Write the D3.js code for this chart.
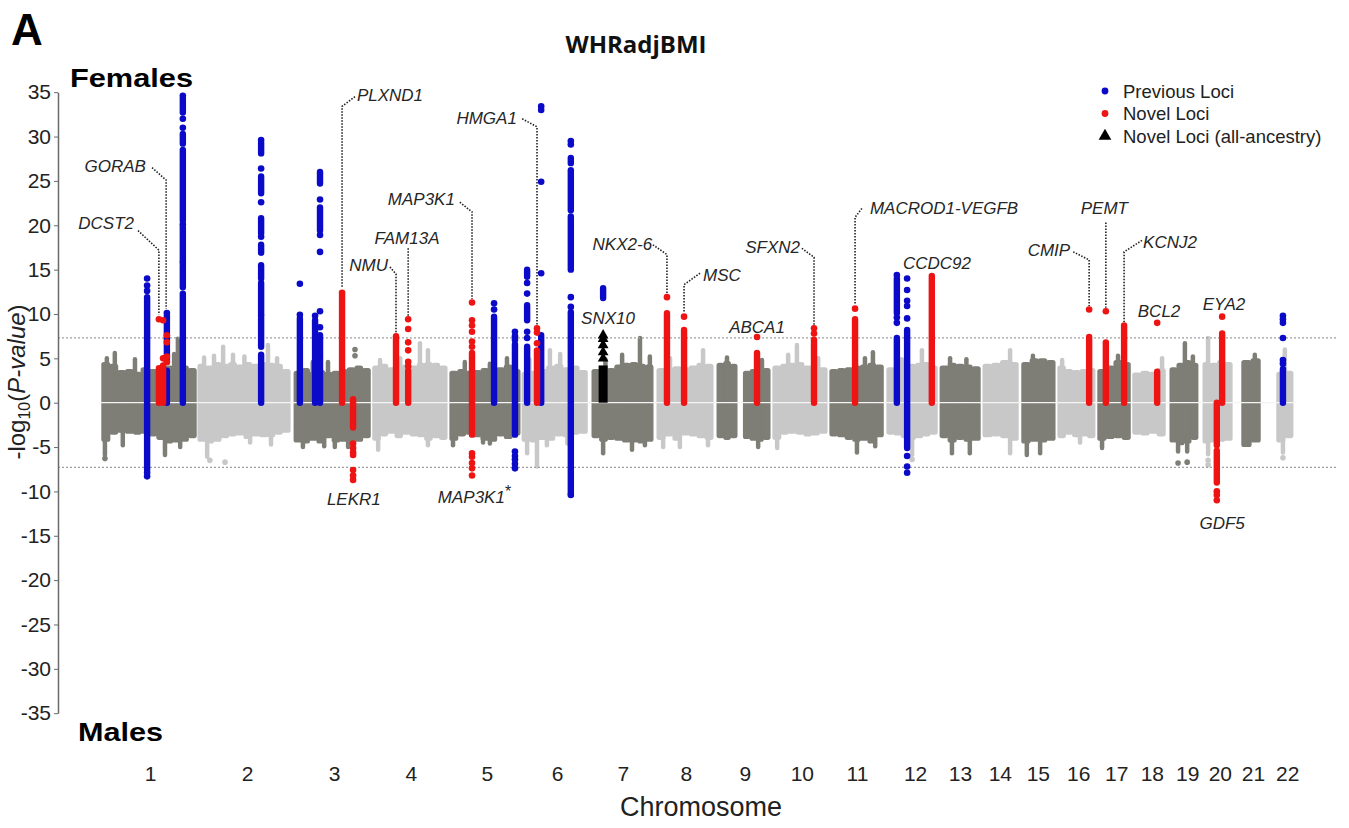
<!DOCTYPE html>
<html>
<head>
<meta charset="utf-8">
<script src="https://cdn.jsdelivr.net/npm/d3@7"></script>
<style>
  body { margin: 0; background: #fff; }
  svg { display: block; }
  text { font-family: "Liberation Sans", Arial, Helvetica, sans-serif; }
</style>
</head>
<body>
<svg id="chart" width="1349" height="828"></svg>
<script>
// ---- Genome layout: cumulative position (Mb) of each chromosome's SNP span ----
const chromNames  = ['1','2','3','4','5','6','7','8','9','10','11','12','13','14','15','16','17','18','19','20','21','22'];
const chromStart  = [5, 258, 511, 718, 921, 1111, 1295, 1466, 1624, 1771, 1921, 2071, 2211, 2324, 2426, 2521, 2626, 2718, 2816, 2903, 3005, 3097];
const chromEnd    = [253, 500, 711, 913, 1105, 1282, 1455, 1613, 1763, 1913, 2061, 2203, 2316, 2416, 2513, 2618, 2711, 2803, 2889, 2979, 3053, 3139];
const chromCenter = [132, 387, 616, 818, 1018, 1203, 1376, 1542, 1697, 1847, 1992, 2145, 2263, 2368, 2468, 2574, 2674, 2768, 2861, 2947, 3034, 3124];

// ---- Background (non-significant) SNP envelope per chromosome, -log10(P) ----
// females plotted upward, males downward; null = no SNPs in that bin
const cloudTop = [
  [4.6, 4.4, 3.7, 3.8, 3.5, 4.0, 3.8, 4.0, 4.2, 4.6, 4.2, 3.9],
  [4.4, 4.2, 4.6, 4.4, 4.6, 4.3, 4.6, 4.4, 4.6, 4.5, 4.4, 3.8],
  [3.6, 3.9, 3.5, 3.7, 3.5, 3.6, 3.8, 4.0, 4.2, 3.9],
  [4.2, 4.4, 4.0, 4.1, 4.3, 4.2, 4.5, 4.6, 4.5, 4.2],
  [3.6, 3.8, 3.6, 3.7, 3.9, 4.2, 4.0, 4.3, 3.8],
  [3.5, 3.6, 3.8, 4.2, 4.4, 4.0, 4.2, 3.7],
  [3.8, 4.0, 3.9, 4.3, 4.5, 4.6, 4.4, 4.3],
  [3.9, 4.0, 4.1, 4.0, 4.2, 4.5, 4.4],
  [4.5, 4.7, 4.4, null, 3.6, 3.8, 4.1, 3.9],
  [4.2, 4.4, 4.5, 4.6, 4.2, 4.5, 4.0],
  [3.8, 3.9, 4.0, 4.2, 4.3, 4.5, 4.3],
  [4.0, 4.2, 4.1, 4.4, 4.5, 4.6, 4.2],
  [4.2, 4.5, 4.4, 4.3, 4.1],
  [4.4, 4.5, 4.8, 4.6],
  [4.6, 5.0, 5.0, 4.8],
  [4.2, 3.8, 3.7, 3.8, 3.9],
  [3.8, 4.2, 4.8, 4.6],
  [3.4, 3.6, 3.5, 3.9],
  [4.0, 4.5, 4.8, 4.5],
  [4.6, 4.5, 4.8, 4.6],
  [4.8, 5.0],
  [3.5, 3.6]
];
const cloudBottom = [
  [-4.4, -3.6, -3.4, -3.5, -3.6, -3.5, -3.8, -4.2, -4.6, -4.5, -4.4, -4.0],
  [-4.4, -4.6, -4.4, -4.0, -3.8, -3.7, -4.1, -3.8, -3.9, -3.9, -3.6, -3.4],
  [-4.5, -4.6, -4.3, -4.6, -4.0, -4.5, -4.4, -4.5, -4.4, -4.0],
  [-4.3, -3.8, -3.5, -4.0, -3.6, -3.8, -3.9, -4.3, -4.0, -4.2],
  [-4.3, -3.8, -3.6, -3.9, -4.3, -4.4, -3.8, -4.1, -3.7],
  [-4.4, -4.5, -4.2, -4.3, -3.8, -3.9, -3.6, -3.5],
  [-4.0, -4.4, -4.2, -4.3, -4.5, -4.5, -4.6, -4.4],
  [-4.2, -3.8, -4.3, -3.7, -3.8, -4.0, -4.2],
  [-4.0, -4.2, -4.0, null, -4.1, -4.3, -4.4, -4.2],
  [-4.2, -3.6, -3.5, -3.6, -3.8, -3.7, -3.5],
  [-3.8, -3.9, -4.2, -4.4, -4.3, -4.6, -3.9],
  [-3.6, -3.7, -4.0, -4.2, -4.0, -3.8, -3.6],
  [-4.0, -4.5, -4.2, -4.4, -4.3],
  [-3.9, -3.8, -4.0, -4.3],
  [-4.6, -4.4, -4.5, -4.3],
  [-4.0, -3.6, -3.9, -3.8, -4.0],
  [-4.3, -4.1, -4.0, -4.2],
  [-3.6, -3.7, -3.5, -3.8],
  [-4.5, -4.8, -4.6, -4.2],
  [-4.6, -4.5, -4.4, -4.3],
  [-5.0, -4.5],
  [-4.5, -4.0]
];
// narrow peaks rising out of the background
const spikePos = [18, 39, 92, 195, 205, 274, 300, 324, 350, 380, 442, 466, 560, 600, 737, 790, 842, 863, 960, 1026, 1071, 1130, 1184, 1211, 1240, 1330, 1374, 1421, 1447, 1500, 1587, 1650, 1742, 1811, 1834, 1890, 2013, 2034, 2110, 2163, 2237, 2280, 2395, 2455, 2532, 2679, 2795, 2855, 2876, 2916, 3039, 3118,
                  13, 60, 171, 211, 282, 395, 450, 534, 590, 618, 653, 732, 863, 929, 1008, 1026, 1124, 1150, 1176, 1230, 1324, 1400, 1434, 1482, 1526, 1600, 1732, 1782, 1992, 2040, 2137, 2242, 2289, 2395, 2439, 2474, 2579, 2637, 2837, 2861, 2916, 3113];
const spikeVal = [5.0, 5.6, 4.9, 5.5, 7.2, 5.1, 5.3, 6.3, 5.4, 5.2, 6.5, 5.0, 4.6, 4.6, 4.8, 5.0, 6.7, 5.9, 4.6, 4.4, 5.0, 4.9, 5.9, 5.5, 5.0, 4.9, 5.4, 7.3, 5.2, 5.0, 5.9, 5.1, 4.8, 5.4, 6.5, 5.0, 5.0, 5.7, 4.9, 5.9, 5.0, 4.9, 5.9, 5.3, 4.8, 5.3, 5.0, 6.7, 5.2, 7.3, 5.4, 6.0,
                  -5.9, -4.8, -5.9, -5.0, -6.1, -4.5, -4.7, -5.0, -4.9, -5.0, -5.0, -5.3, -4.8, -4.8, -4.5, -4.6, -5.7, -7.2, -4.8, -4.6, -5.7, -5.3, -4.8, -5.0, -5.0, -4.8, -5.0, -5.1, -5.6, -4.9, -5.9, -5.7, -5.7, -5.7, -5.9, -5.7, -4.5, -5.1, -5.5, -5.5, -5.8, -5.6];
// isolated background SNPs
const outlierPos = [13, 289, 329, 671, 671, 2137, 2837, 2861, 2916, 2916, 3113];
const outlierVal = [-6.3, -6.5, -6.7, 6.0, 5.3, -6.4, -6.8, -6.7, -6.5, -7.0, -6.2];

// ---- Genome-wide significant loci ----
// type: prev = previously reported, novel = novel, allanc = novel in all-ancestry meta-analysis
const lociPos  = [124, 155, 166, 176, 176, 218, 424, 526, 566, 579, 637, 666, 779, 811, 979, 1037, 1092, 1124, 1150, 1161, 1239, 1324, 1324, 1492, 1537, 1729, 1879, 1987, 2097, 2124, 2189, 2603, 2647, 2695, 2782, 2953, 2939, 3113];
const lociType = ['prev','novel','novel','prev','novel','prev','prev','prev','prev','prev','novel','novel','novel','novel','novel','prev','prev','prev','novel','prev','prev','prev','allanc','novel','novel','novel','novel','novel','prev','prev','novel','novel','novel','novel','novel','novel','novel','prev'];
// continuous runs of SNPs [from, to]
const lociRuns = [
  [[-7.6, 11.9]],
  [[0, 3.9]],
  [[0, 4.2]],
  [[0, 3.6], [4.6, 9.8]],
  [],
  [[0, 12.3], [13.0, 15.5], [16.0, 19.8], [20.5, 28.5], [29.2, 30.3], [32.7, 34.3]],
  [[0, 5.4], [6.3, 9.5], [10.0, 13.5], [14.0, 15.5], [16.9, 17.8], [19.1, 20.8], [23.6, 25.5], [28.1, 29.3]],
  [[0, 9.5]],
  [[0, 9.3]],
  [[0, 7.6], [19.4, 22.0], [24.7, 26.0]],
  [[0, 12.2]],
  [[-2.8, 0.4]],
  [[0, 7.5]],
  [[0, 3.6]],
  [[-3.6, 5.6]],
  [[0, 9.7]],
  [[-3.6, 6.6]],
  [[0, 6.3], [9.3, 11.0], [14.2, 15.0]],
  [[0, 5.9]],
  [[0, 7.6]],
  [[-10.2, 10.2], [15.0, 21.0], [21.7, 26.2], [27.0, 27.6]],
  [[11.8, 12.9]],
  [[0, 4.2]],
  [[0, 10.1]],
  [[0, 8.2]],
  [[0, 5.6]],
  [[0, 7.1]],
  [[0, 9.4]],
  [[0, 7.3], [10.1, 14.0]],
  [[-5.1, 8.2]],
  [[0, 14.3]],
  [[0, 7.4]],
  [[0, 6.8]],
  [[0, 8.7]],
  [[0, 3.5]],
  [[0, 7.8]],
  [[-4.8, 0], [-9.0, -5.4]],
  [[0, 3.8]]
];
// individual SNPs outside the runs
const lociDots = [
  [14.0, 13.2, 12.6, -8.3, -7.9],
  [9.4],
  [9.3, 5.0],
  [10.1],
  [7.6, 6.8, 5.2, 4.6],
  [31.0, 32.0, 34.6, 20.1, 15.8],
  [29.6, 26.4, 22.6, 18.7, 9.8],
  [13.4, 9.9],
  [9.8],
  [10.3, 22.9, 18.9, 17.0, 8.5],
  [12.4],
  [-4.6, -5.1, -5.6, -5.9, -7.6, -8.2, -8.7],
  [],
  [9.4, 8.3, 6.8, 5.9, 4.6, 4.1],
  [11.3, 9.3, 8.7, 8.0, 6.9, 6.3, -5.7, -6.1, -6.8, -7.4, -8.2],
  [11.2, 10.5],
  [8.0, 7.5, 7.1, -5.5, -6.0, -6.4, -6.9, -7.4],
  [13.5, 12.3, 8.0, 7.3],
  [8.4, 7.9, 6.7],
  [33.4, 33.0, 24.9, 14.6],
  [29.5, 29.1, 11.9, 10.8, -10.4],
  [],
  [7.6, 7.2, 6.5, 5.7, 5.0],
  [11.9],
  [9.7],
  [7.4],
  [8.4, 7.8],
  [10.6],
  [14.4, 9.6, 9.0],
  [14.0, 12.7, 11.5, 10.9, 9.5, -6.0, -7.2, -7.9],
  [],
  [10.5],
  [10.3],
  [],
  [9.0],
  [9.7],
  [-10.0, -10.4, -11.0],
  [9.8, 9.4, 9.0, 7.3, 4.8, 4.4]
];

// ---- Gene annotations: label anchor [Mb, -log10 P] and dotted leader vertices ----
const geneNames   = ['DCST2','GORAB','PLXND1','NMU','FAM13A','MAP3K1','HMGA1','SNX10','NKX2-6','MSC','ABCA1','SFXN2','MACROD1-VEGFB','CCDC92','CMIP','PEMT','KCNJ2','BCL2','EYA2','LEKR1','MAP3K1','GDF5'];
const geneMark    = ['','','','','','','','','','','','','','','','','','','','','*',''];
const geneAt      = [[89.5,20.3],[121,26.7],[676,34.7],[758,15.5],[808,18.6],[934,23.0],[1097,32.1],[1337,9.6],[1453,17.9],[1587,14.4],[1729,8.5],[1842,17.6],[2026,22.0],[2113,15.8],[2553,17.2],[2643,22.0],[2745,18.1],[2787,10.3],[2958,11.1],[668,-10.8],[889,-10.6],[2953,-13.6]];
const geneAnchor  = ['end','end','start','end','middle','end','end','middle','end','start','middle','end','start','start','end','middle','start','middle','middle','middle','start','middle'];
const geneLeader  = [
  [[100,19.4],[155,17.2],[155,9.9]],
  [[137,26.5],[174,25.1],[174,10.6]],
  [[671,34.5],[637,33.4],[637,12.9]],
  [[763,15.3],[779,14.5],[779,7.9]],
  [[811,17.4],[811,9.8]],
  [[947,22.6],[979,21.5],[979,11.7]],
  [[1111,32.0],[1150,31.1],[1150,8.8]],
  null,
  [[1455,17.8],[1492,16.7],[1492,12.3]],
  [[1579,14.6],[1537,13.3],[1537,10.1]],
  null,
  [[1847,17.4],[1879,16.4],[1879,8.8]],
  [[2005,21.9],[1987,20.9],[1987,11.0]],
  null,
  [[2561,17.0],[2603,16.1],[2603,10.9]],
  [[2647,20.3],[2647,10.7]],
  [[2742,18.3],[2695,17.0],[2695,9.1]],
  null, null, null, null, null
];

const yTicks = d3.range(-35, 36, 5);
const legendLabels = ['Previous Loci', 'Novel Loci', 'Novel Loci (all-ancestry)'];
const legendTypes  = ['prev', 'novel', 'allanc'];

// ---- Drawing ----
const svg = d3.select('#chart');
const x = d3.scaleLinear().domain([0, 3150]).range([100, 1297]);
const y = d3.scaleLinear().domain([-35, 35]).range([713.2, 92.2]);

const darkGrey = '#7e7e77', lightGrey = '#c8c8c8';
const typeColor = { prev: '#0a0ac8', novel: '#ee1414', allanc: '#000000' };
const chromOf = p => chromStart.findIndex((s, i) => p >= s - 3 && p <= chromEnd[i] + 3);
const greyOf = p => (chromOf(p) % 2 === 0 ? darkGrey : lightGrey);

// background clouds
const gCloud = svg.append('g');
chromNames.forEach((c, i) => {
  const n = cloudTop[i].length, w = (chromEnd[i] - chromStart[i]) / n;
  const fill = i % 2 === 0 ? darkGrey : lightGrey;
  cloudTop[i].forEach((t, j) => {
    if (t == null) return;
    const b = cloudBottom[i][j];
    const x0 = x(chromStart[i] + j * w), x1 = x(chromStart[i] + (j + 1) * w);
    gCloud.append('rect')
      .attr('x', x0 - 0.6).attr('width', x1 - x0 + 1.2)
      .attr('y', y(t)).attr('height', y(b) - y(t))
      .attr('rx', 2.6).attr('fill', fill);
  });
});
spikePos.forEach((p, k) => {
  gCloud.append('line')
    .attr('x1', x(p)).attr('x2', x(p))
    .attr('y1', y(0)).attr('y2', y(spikeVal[k]))
    .attr('stroke', greyOf(p)).attr('stroke-width', 4.5).attr('stroke-linecap', 'round');
});
outlierPos.forEach((p, k) => {
  gCloud.append('circle').attr('cx', x(p)).attr('cy', y(outlierVal[k])).attr('r', 2.8).attr('fill', greyOf(p));
});

// gap between female and male halves
svg.append('line')
  .attr('x1', x(chromStart[0]) - 3).attr('x2', x(chromEnd[21]) + 3)
  .attr('y1', y(0)).attr('y2', y(0))
  .attr('stroke', '#f4f4f4').attr('stroke-width', 1.2);

// significance thresholds (P = 5e-8)
[7.3, -7.3].forEach(v => {
  svg.append('line')
    .attr('x1', 58).attr('x2', 1338).attr('y1', y(v)).attr('y2', y(v))
    .attr('stroke', '#a0a0a0').attr('stroke-width', 1.2).attr('stroke-dasharray', '2,2');
});

// loci, drawn previous -> novel -> all-ancestry
const gLoci = svg.append('g');
const order = ['prev', 'novel', 'allanc'];
const tri = d3.symbol().type(d3.symbolTriangle).size(50);
order.forEach(type => {
  lociPos.forEach((p, k) => {
    if (lociType[k] !== type) return;
    const col = typeColor[type];
    lociRuns[k].forEach(([lo, hi]) => {
      gLoci.append('line')
        .attr('x1', x(p)).attr('x2', x(p)).attr('y1', y(lo)).attr('y2', y(hi))
        .attr('stroke', col)
        .attr('stroke-width', type === 'allanc' ? 9 : 6.4)
        .attr('stroke-linecap', type === 'allanc' ? 'butt' : 'round');
    });
    lociDots[k].forEach(v => {
      if (type === 'allanc') {
        gLoci.append('path').attr('d', tri).attr('transform', `translate(${x(p)},${y(v)})`).attr('fill', col);
      } else {
        gLoci.append('circle').attr('cx', x(p)).attr('cy', y(v)).attr('r', 3.3).attr('fill', col);
      }
    });
  });
});

// gene labels and leaders
const gGenes = svg.append('g');
const leaderLine = d3.line().x(d => x(d[0])).y(d => y(d[1]));
geneNames.forEach((g, k) => {
  if (geneLeader[k]) {
    gGenes.append('path').attr('d', leaderLine(geneLeader[k]))
      .attr('fill', 'none').attr('stroke', '#222').attr('stroke-width', 1.6)
      .attr('stroke-dasharray', '1.5,1.5');
  }
  const t = gGenes.append('text')
    .attr('x', x(geneAt[k][0])).attr('y', y(geneAt[k][1]))
    .attr('dy', '0.36em').attr('text-anchor', geneAnchor[k])
    .attr('font-size', 17).attr('font-style', 'italic').attr('fill', '#262626')
    .text(g);
  if (geneMark[k]) {
    t.append('tspan').attr('font-style', 'normal').attr('font-size', 16).attr('dy', '-0.35em').text(geneMark[k]);
  }
});

// y axis
const yAxis = d3.axisLeft(y).tickValues(yTicks).tickFormat(d => String(d)).tickSize(4).tickSizeOuter(0).tickPadding(3);
const gy = svg.append('g').attr('transform', 'translate(58,0)').call(yAxis);
gy.select('.domain').attr('stroke', '#6a6a6a').attr('stroke-width', 1.5);
gy.selectAll('.tick line').attr('stroke', '#6a6a6a');
gy.selectAll('.tick text').attr('font-size', 21).attr('fill', '#222').style('font-family', '"Liberation Sans", Arial, sans-serif');

// x axis (chromosome numbers)
const xAxis = d3.axisBottom(x).tickValues(chromCenter).tickFormat((d, i) => chromNames[i]).tickSize(0).tickPadding(2);
const gx = svg.append('g').attr('transform', 'translate(0,764)').call(xAxis);
gx.select('.domain').remove();
gx.selectAll('.tick text').attr('font-size', 21).attr('fill', '#222').style('font-family', '"Liberation Sans", Arial, sans-serif');

// axis titles
svg.append('text').attr('x', 701).attr('y', 816).attr('text-anchor', 'middle')
  .attr('font-size', 27).attr('fill', '#222').text('Chromosome');
const yl = svg.append('text').attr('transform', 'translate(25,382) rotate(-90)')
  .attr('text-anchor', 'middle').attr('font-size', 24).attr('fill', '#222');
yl.append('tspan').text('-log');
yl.append('tspan').attr('font-size', 16).attr('dy', '0.3em').text('10');
yl.append('tspan').attr('dy', '-0.2em').text('(');
yl.append('tspan').attr('font-style', 'italic').text('P-value');
yl.append('tspan').text(')');

// panel texts
svg.append('text').attr('x', 11).attr('y', 45).attr('font-size', 44).attr('font-weight', 'bold').attr('fill', '#000').text('A');
svg.append('text').attr('x', 636).attr('y', 53).attr('text-anchor', 'middle')
  .attr('font-size', 24).attr('font-weight', 'bold').attr('fill', '#111')
  .style('font-family', '"Open Sans", "Liberation Sans", sans-serif').text('WHRadjBMI');
svg.append('text').attr('x', 70).attr('y', 87).attr('font-size', 25).attr('font-weight', 'bold')
  .attr('textLength', 123).attr('lengthAdjust', 'spacingAndGlyphs').attr('fill', '#000').text('Females');
svg.append('text').attr('x', 78).attr('y', 741).attr('font-size', 25).attr('font-weight', 'bold')
  .attr('textLength', 85).attr('lengthAdjust', 'spacingAndGlyphs').attr('fill', '#000').text('Males');

// legend
const gLeg = svg.append('g').attr('transform', 'translate(1105,91)');
legendLabels.forEach((lab, k) => {
  const yy = k * 22.5;
  if (legendTypes[k] === 'allanc') {
    gLeg.append('path').attr('d', d3.symbol().type(d3.symbolTriangle).size(70)).attr('transform', `translate(0,${yy})`).attr('fill', '#000');
  } else {
    gLeg.append('circle').attr('cx', 0).attr('cy', yy).attr('r', 3.4).attr('fill', typeColor[legendTypes[k]]);
  }
  gLeg.append('text').attr('x', 18).attr('y', yy).attr('dy', '0.36em').attr('font-size', 18.5).attr('fill', '#222').text(lab);
});
</script>
</body>
</html>
